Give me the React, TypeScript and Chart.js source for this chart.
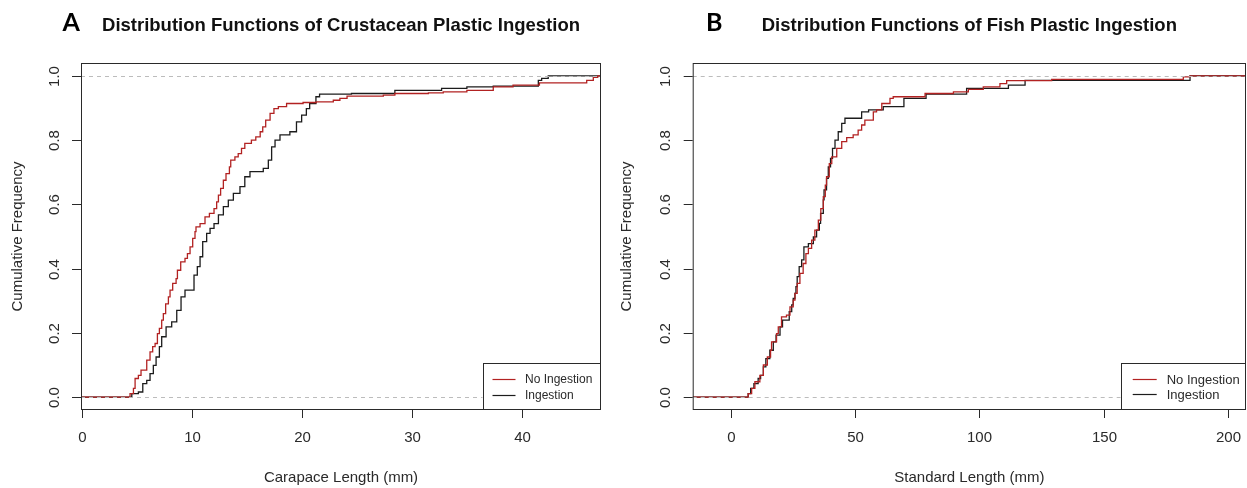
import React, { useEffect, useRef } from "react";
import { Chart, registerables } from "chart.js";

Chart.register(...registerables);

// ---------------- DATA ----------------
// Panel A: crustaceans (carapace length, mm) – ECDF knots and cumulative values
const crustNoIngX = [4.36, 4.67, 4.82, 5.12, 5.36, 5.88, 6.18, 6.42, 6.64, 6.85, 7.03, 7.24, 7.39, 7.6, 7.85, 8.0, 8.24, 8.55, 8.67, 8.97, 9.36, 9.58, 9.82, 10.06, 10.27, 10.36, 10.73, 11.18, 11.58, 12.0, 12.24, 12.4, 12.6, 12.85, 13.09, 13.4, 13.52, 13.9, 14.2, 14.5, 14.8, 15.4, 15.8, 16.2, 16.43, 16.7, 17.1, 17.45, 17.85, 18.6, 20.1, 21.3, 22.85, 23.45, 24.1, 27.4, 28.45, 31.5, 32.85, 35.0, 37.4, 39.2, 41.6, 45.9, 46.5, 46.9];
const crustNoIngY = [0.011, 0.027, 0.058, 0.068, 0.084, 0.115, 0.141, 0.157, 0.167, 0.198, 0.214, 0.24, 0.26, 0.29, 0.312, 0.333, 0.354, 0.369, 0.395, 0.421, 0.432, 0.447, 0.468, 0.494, 0.515, 0.53, 0.54, 0.561, 0.572, 0.587, 0.608, 0.629, 0.65, 0.675, 0.696, 0.717, 0.738, 0.748, 0.758, 0.774, 0.79, 0.8, 0.81, 0.826, 0.841, 0.862, 0.883, 0.898, 0.904, 0.914, 0.917, 0.919, 0.924, 0.93, 0.937, 0.94, 0.945, 0.947, 0.95, 0.955, 0.966, 0.971, 0.978, 0.986, 0.995, 1.0];
const crustIngX = [4.52, 5.12, 5.52, 5.88, 6.18, 6.48, 6.73, 7.03, 7.24, 7.64, 8.15, 8.61, 9.0, 9.36, 10.18, 10.48, 10.73, 10.97, 11.33, 11.64, 12.0, 12.4, 12.85, 13.3, 13.76, 14.36, 14.8, 15.27, 16.48, 16.94, 17.24, 17.55, 18.0, 18.9, 19.5, 19.97, 20.4, 20.7, 21.27, 21.6, 24.5, 28.45, 32.7, 35.0, 37.4, 41.5, 41.8, 42.4];
const crustIngY = [0.011, 0.016, 0.042, 0.052, 0.073, 0.099, 0.125, 0.157, 0.188, 0.219, 0.234, 0.27, 0.312, 0.333, 0.38, 0.406, 0.437, 0.484, 0.51, 0.525, 0.54, 0.567, 0.593, 0.613, 0.634, 0.655, 0.686, 0.702, 0.712, 0.738, 0.779, 0.8, 0.816, 0.826, 0.857, 0.878, 0.898, 0.914, 0.935, 0.943, 0.945, 0.955, 0.961, 0.966, 0.968, 0.986, 0.992, 1.0];

// Panel B: fish (standard length, mm)
const fishNoIngX = [7.1, 8.5, 9.8, 11.8, 13.2, 14.8, 16.1, 16.5, 18.5, 19.2, 20.5, 22.5, 23.9, 25.2, 25.9, 26.8, 27.9, 29.2, 30.3, 31.3, 32.6, 33.9, 35.3, 36.3, 37.3, 38.1, 38.6, 39.7, 40.7, 42.7, 44.7, 46.7, 49.3, 51.3, 52.7, 54.0, 57.4, 58.7, 60.8, 64.1, 65.4, 78.2, 89.6, 95.6, 101.6, 108.3, 111.0, 129.1, 182.0, 184.7];
const fishNoIngY = [0.011, 0.027, 0.048, 0.068, 0.1, 0.125, 0.146, 0.172, 0.198, 0.219, 0.25, 0.255, 0.281, 0.302, 0.323, 0.354, 0.385, 0.416, 0.447, 0.463, 0.489, 0.52, 0.551, 0.587, 0.624, 0.66, 0.686, 0.727, 0.748, 0.774, 0.795, 0.808, 0.816, 0.831, 0.847, 0.862, 0.888, 0.894, 0.914, 0.93, 0.935, 0.945, 0.95, 0.958, 0.966, 0.976, 0.985, 0.989, 0.997, 1.0];
const fishIngX = [7.1, 8.1, 9.4, 11.1, 12.1, 13.2, 14.2, 15.8, 17.2, 18.3, 19.9, 20.9, 23.6, 24.6, 25.2, 25.9, 26.3, 26.8, 27.6, 28.6, 29.5, 31.3, 33.3, 34.6, 35.7, 36.2, 37.3, 37.6, 38.6, 39.3, 40.2, 41.0, 42.0, 43.3, 44.7, 46.0, 52.7, 55.5, 61.4, 69.7, 78.6, 94.9, 111.7, 118.4, 184.7];
const fishIngY = [0.011, 0.027, 0.042, 0.058, 0.068, 0.094, 0.12, 0.146, 0.172, 0.193, 0.219, 0.24, 0.266, 0.287, 0.307, 0.323, 0.344, 0.375, 0.406, 0.427, 0.468, 0.478, 0.499, 0.52, 0.541, 0.572, 0.614, 0.645, 0.681, 0.717, 0.743, 0.774, 0.8, 0.826, 0.852, 0.868, 0.888, 0.894, 0.904, 0.93, 0.943, 0.961, 0.971, 0.986, 1.0];

const crustXTicks = [0, 10, 20, 30, 40];
const fishXTicks = [0, 50, 100, 150, 200];
const yTicks = [0, 0.2, 0.4, 0.6, 0.8, 1.0];
const yTickLabels = ["0.0", "0.2", "0.4", "0.6", "0.8", "1.0"];
const legendLabels = ["No Ingestion", "Ingestion"];
const refLines = [0, 1];

const crustRange = [-0.1, 47.2];
const fishRange = [-15.2, 207.2];
const yRange = [-0.04, 1.04];

// ---------------- STYLE ----------------
const RED = "#b22222";
const BLACK = "#1c1c1c";
const FONT = '"Liberation Sans", Arial, Helvetica, sans-serif';

function stepData(xs: number[], ys: number[], xMin: number, xMax: number) {
  const pts: { x: number; y: number }[] = [{ x: xMin, y: 0 }];
  xs.forEach((x, i) => pts.push({ x, y: ys[i] }));
  pts.push({ x: xMax, y: ys[ys.length - 1] });
  return pts;
}

type PanelCfg = {
  left: number;
  width: number;
  padding: { left: number; right: number; top: number; bottom: number };
  xRange: number[];
  xTicks: number[];
  series: { label: string; color: string; xs: number[]; ys: number[] }[];
  letter: string;
  letterX: number;
  title: string;
  xTitle: string;
  yTitleX: number;
  yLabelBaseX: number;
  legend: { left: number; top: number; lineX0: number; lineX1: number; lineY: number[]; textX: number; font: number };
};

function makeDecor(cfg: PanelCfg) {
  return {
    id: "rDecor",
    afterDatasetsDraw(chart: any) {
      const { ctx, chartArea: a, scales } = chart;
      const sx = scales.x;
      const sy = scales.y;
      ctx.save();

      // reference dashed lines (abline h = 0, 1)
      ctx.strokeStyle = "#bcbcbc";
      ctx.lineWidth = 1;
      ctx.setLineDash([4, 4]);
      refLines.forEach((v) => {
        const py = Math.round(sy.getPixelForValue(v)) + 0.5;
        ctx.beginPath();
        ctx.moveTo(a.left, py);
        ctx.lineTo(a.right, py);
        ctx.stroke();
      });
      ctx.setLineDash([]);

      // legend
      const lg = cfg.legend;
      ctx.fillStyle = "#ffffff";
      ctx.fillRect(lg.left, lg.top, a.right - lg.left, a.bottom - lg.top);
      ctx.strokeStyle = "#2a2a2a";
      ctx.lineWidth = 1;
      ctx.strokeRect(Math.round(lg.left) + 0.5, Math.round(lg.top) + 0.5, a.right - Math.round(lg.left) - 1, a.bottom - Math.round(lg.top) - 1);
      ctx.font = `${lg.font}px ${FONT}`;
      ctx.textAlign = "left";
      ctx.textBaseline = "middle";
      cfg.series.forEach((s, i) => {
        ctx.strokeStyle = s.color;
        ctx.lineWidth = 1.2;
        ctx.beginPath();
        ctx.moveTo(lg.lineX0, lg.lineY[i]);
        ctx.lineTo(lg.lineX1, lg.lineY[i]);
        ctx.stroke();
        ctx.fillStyle = "#2a2a2a";
        ctx.fillText(legendLabels[i], lg.textX, lg.lineY[i] + 0.5);
      });

      // plot box
      ctx.strokeStyle = "#2a2a2a";
      ctx.lineWidth = 1;
      ctx.strokeRect(a.left + 0.5, a.top + 0.5, a.right - a.left - 1, a.bottom - a.top - 1);

      // x axis ticks and labels
      ctx.font = `15px ${FONT}`;
      ctx.fillStyle = "#2a2a2a";
      ctx.textAlign = "center";
      ctx.textBaseline = "middle";
      cfg.xTicks.forEach((v) => {
        const px = Math.round(sx.getPixelForValue(v)) + 0.5;
        ctx.beginPath();
        ctx.moveTo(px, a.bottom);
        ctx.lineTo(px, a.bottom + 8);
        ctx.stroke();
        ctx.fillText(String(v), px, 438);
      });

      // y axis ticks and rotated labels
      yTicks.forEach((v, i) => {
        const py = Math.round(sy.getPixelForValue(v)) + 0.5;
        ctx.beginPath();
        ctx.moveTo(a.left - 9, py);
        ctx.lineTo(a.left, py);
        ctx.stroke();
        ctx.save();
        ctx.translate(cfg.yLabelBaseX, py);
        ctx.rotate(-Math.PI / 2);
        ctx.textBaseline = "alphabetic";
        ctx.fillText(yTickLabels[i], 0, 0);
        ctx.restore();
      });

      // axis titles
      ctx.textBaseline = "middle";
      ctx.fillText(cfg.xTitle, (a.left + a.right) / 2, 478);
      ctx.save();
      ctx.translate(cfg.yTitleX, (a.top + a.bottom) / 2);
      ctx.rotate(-Math.PI / 2);
      ctx.fillText("Cumulative Frequency", 0, 0);
      ctx.restore();

      // main title
      ctx.fillStyle = "#111111";
      ctx.font = `bold 18.5px ${FONT}`;
      ctx.textBaseline = "alphabetic";
      ctx.fillText(cfg.title, (a.left + a.right) / 2, 31);

      // panel letter
      ctx.font = `bold 25px Lato, "Open Sans", sans-serif`;
      ctx.textAlign = "left";
      ctx.fillStyle = "#000000";
      ctx.fillText(cfg.letter, cfg.letterX, 31);

      ctx.restore();
    },
  };
}

function Panel({ cfg }: { cfg: PanelCfg }) {
  const ref = useRef<HTMLCanvasElement | null>(null);
  useEffect(() => {
    if (!ref.current) return;
    const chart = new Chart(ref.current, {
      type: "line",
      data: {
        datasets: cfg.series.map((s) => ({
          label: s.label,
          data: stepData(s.xs, s.ys, cfg.xRange[0], cfg.xRange[1]),
          borderColor: s.color,
          borderWidth: 1.3,
          pointRadius: 0,
          stepped: true,
          fill: false,
          tension: 0,
        })),
      },
      options: {
        responsive: false,
        devicePixelRatio: 1,
        animation: false,
        events: [],
        layout: { padding: cfg.padding },
        scales: {
          x: { type: "linear", min: cfg.xRange[0], max: cfg.xRange[1], display: false },
          y: { type: "linear", min: yRange[0], max: yRange[1], display: false },
        },
        plugins: { legend: { display: false }, tooltip: { enabled: false }, title: { display: false } },
      },
      plugins: [makeDecor(cfg)],
    } as any);
    return () => chart.destroy();
  }, [cfg]);
  return (
    <canvas
      ref={ref}
      width={cfg.width}
      height={488}
      style={{ position: "absolute", left: cfg.left, top: 0, width: cfg.width, height: 488 }}
    />
  );
}

const panelA: PanelCfg = {
  left: 0,
  width: 612,
  padding: { left: 81, right: 11, top: 63, bottom: 78 },
  xRange: crustRange,
  xTicks: crustXTicks,
  series: [
    { label: legendLabels[0], color: RED, xs: crustNoIngX, ys: crustNoIngY },
    { label: legendLabels[1], color: BLACK, xs: crustIngX, ys: crustIngY },
  ],
  letter: "A",
  letterX: 62.5,
  title: "Distribution Functions of Crustacean Plastic Ingestion",
  xTitle: "Carapace Length (mm)",
  yTitleX: 18,
  yLabelBaseX: 58.5,
  legend: { left: 482.5, top: 363, lineX0: 492.5, lineX1: 515.5, lineY: [379.5, 395.5], textX: 525, font: 12 },
};

const panelB: PanelCfg = {
  left: 590,
  width: 657,
  padding: { left: 102.7, right: 1, top: 63, bottom: 78 },
  xRange: fishRange,
  xTicks: fishXTicks,
  series: [
    { label: legendLabels[0], color: RED, xs: fishNoIngX, ys: fishNoIngY },
    { label: legendLabels[1], color: BLACK, xs: fishIngX, ys: fishIngY },
  ],
  letter: "B",
  letterX: 116,
  title: "Distribution Functions of Fish Plastic Ingestion",
  xTitle: "Standard Length (mm)",
  yTitleX: 37,
  yLabelBaseX: 80,
  legend: { left: 530.7, top: 363, lineX0: 542.7, lineX1: 566.7, lineY: [379.5, 394.5], textX: 576.7, font: 13 },
};

export default function App() {
  return (
    <div style={{ position: "absolute", left: 0, top: 0, width: 1247, height: 488, background: "#ffffff", overflow: "hidden" }}>
      <Panel cfg={panelA} />
      <Panel cfg={panelB} />
    </div>
  );
}
